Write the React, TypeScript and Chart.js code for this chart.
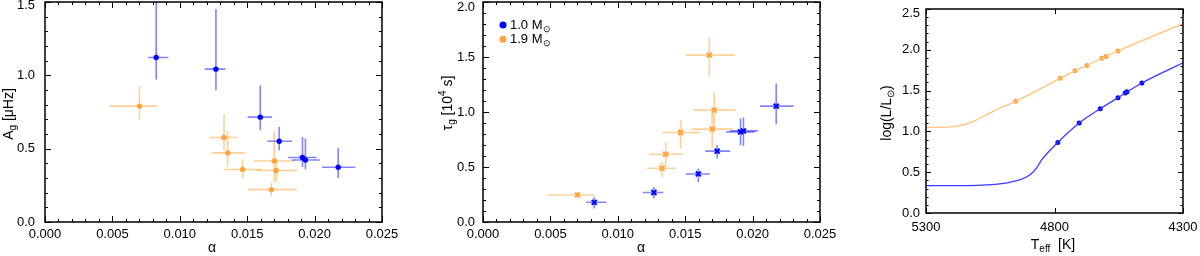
import React, { useEffect, useRef } from 'react';
import { Chart, registerables } from 'chart.js';

Chart.register(...registerables);

const FONT = '"Liberation Sans", Arial, Helvetica, sans-serif';

// ---------------- data ----------------
// alpha values (shared by panels 1 and 2)
const alphaBlue = [0.00825, 0.01268, 0.01597, 0.01737, 0.0191, 0.01932, 0.02175];
const alphaBlueLo = [0.00766, 0.01185, 0.01503, 0.01649, 0.01804, 0.01831, 0.02055];
const alphaBlueHi = [0.00915, 0.01338, 0.01683, 0.01834, 0.02015, 0.02039, 0.02303];
const alphaOrange = [0.00701, 0.01328, 0.01355, 0.01466, 0.017, 0.01715, 0.01679];
const alphaOrangeLo = [0.0048, 0.01218, 0.01234, 0.0133, 0.01545, 0.01563, 0.01505];
const alphaOrangeHi = [0.0083, 0.0143, 0.01482, 0.0161, 0.01855, 0.01872, 0.01868];

// panel 1: A_g [muHz]
const agBlue = [1.122, 1.042, 0.715, 0.551, 0.44, 0.423, 0.373];
const agBlueLo = [0.972, 0.899, 0.626, 0.489, 0.375, 0.358, 0.3];
const agBlueHi = [1.75, 1.45, 0.931, 0.648, 0.58, 0.569, 0.505];
const agOrange = [0.79, 0.576, 0.471, 0.358, 0.416, 0.351, 0.221];
const agOrangeLo = [0.699, 0.489, 0.375, 0.296, 0.273, 0.278, 0.175];
const agOrangeHi = [0.926, 0.735, 0.621, 0.426, 0.621, 0.433, 0.266];

// panel 2: tau_g [10^4 s]
const tauBlue = [0.179, 0.268, 0.437, 0.644, 0.819, 0.828, 1.053];
const tauBlueLo = [0.122, 0.213, 0.364, 0.577, 0.698, 0.69, 0.889];
const tauBlueHi = [0.228, 0.319, 0.486, 0.698, 0.941, 0.95, 1.26];
const tauOrange = [0.246, 0.489, 0.616, 0.814, 0.844, 1.017, 1.517];
const tauOrangeLo = [0.22, 0.41, 0.5, 0.668, 0.67, 0.83, 1.32];
const tauOrangeHi = [0.272, 0.546, 0.728, 0.926, 1.0, 1.183, 1.684];

// panel 3: HR diagram
const teffBlue = [4787, 4704, 4622, 4553, 4525, 4518, 4460];
const logLBlue = [0.865, 1.103, 1.278, 1.413, 1.47, 1.485, 1.593];
const teffOrange = [4951, 4778, 4720, 4674, 4616, 4599, 4553];
const logLOrange = [1.368, 1.65, 1.744, 1.809, 1.895, 1.919, 1.985];
const trackBlueT = [5300, 5200, 5100, 5030, 4986, 4934, 4895, 4870, 4850, 4787, 4704, 4622, 4553, 4460, 4300];
const trackBlueL = [0.335, 0.335, 0.338, 0.35, 0.368, 0.408, 0.469, 0.55, 0.65, 0.865, 1.103, 1.278, 1.413, 1.593, 1.84];
const trackOrangeT = [5300, 5250, 5168, 5116, 5064, 5012, 4951, 4778, 4720, 4674, 4616, 4553, 4300];
const trackOrangeL = [1.05, 1.05, 1.07, 1.123, 1.205, 1.287, 1.368, 1.65, 1.744, 1.809, 1.895, 1.985, 2.32];

// legend
const legendMasses = ['1.0', '1.9'];

// ---------------- styles ----------------
const BLUE = '#0000ff';
const ORANGE = '#ffa43c';
const BLUE_ERR = 'rgba(50,50,255,0.6)';
const ORANGE_ERR = 'rgba(255,170,70,0.55)';
const BLUE_LINE = '#3a3aff';
const ORANGE_LINE = '#ffc47a';

type Seg = { t: string; sub?: boolean; sup?: boolean };

function drawRich(ctx: CanvasRenderingContext2D, segs: Seg[], x: number, y: number, rotate: boolean, align: 'center' | 'left', size = 14) {
  ctx.save();
  ctx.translate(x, y);
  if (rotate) ctx.rotate(-Math.PI / 2);
  const small = Math.round(size * 0.68);
  let total = 0;
  const widths = segs.map((s) => {
    ctx.font = `${s.sub || s.sup ? small : size}px ${FONT}`;
    const w = ctx.measureText(s.t).width;
    total += w;
    return w;
  });
  let cx = align === 'center' ? -total / 2 : 0;
  ctx.textBaseline = 'middle';
  ctx.textAlign = 'left';
  ctx.fillStyle = '#000';
  segs.forEach((s, i) => {
    ctx.font = `${s.sub || s.sup ? small : size}px ${FONT}`;
    const dy = s.sub ? size * 0.32 : s.sup ? -size * 0.35 : 0;
    ctx.fillText(s.t, cx, dy);
    cx += widths[i];
  });
  ctx.restore();
}

type PanelCfg = {
  xMajor: number; xMinor: number; yMajor: number; yMinor: number;
  majorLen: number; minorLen: number;
  xTitle: Seg[]; xTitlePos: [number, number];
  yTitle: Seg[]; yTitlePos: [number, number];
  legend?: boolean;
};

function drawTicks(chart: any, cfg: PanelCfg) {
  const { ctx, chartArea: a } = chart;
  const xs = chart.scales.x;
  const ys = chart.scales.y;
  ctx.save();
  ctx.strokeStyle = '#000';
  ctx.lineWidth = 1;
  const ratioX = Math.round(cfg.xMajor / cfg.xMinor);
  const nX = Math.round((xs.max - xs.min) / cfg.xMinor);
  for (let i = 0; i <= nX; i++) {
    const v = xs.min + i * cfg.xMinor;
    const len = i % ratioX === 0 ? cfg.majorLen : cfg.minorLen;
    const p = Math.round(xs.getPixelForValue(v)) + 0.5;
    ctx.beginPath();
    ctx.moveTo(p, a.bottom); ctx.lineTo(p, a.bottom - len);
    ctx.moveTo(p, a.top); ctx.lineTo(p, a.top + len);
    ctx.stroke();
  }
  const ratioY = Math.round(cfg.yMajor / cfg.yMinor);
  const nY = Math.round((ys.max - ys.min) / cfg.yMinor);
  for (let i = 0; i <= nY; i++) {
    const v = ys.min + i * cfg.yMinor;
    const len = i % ratioY === 0 ? cfg.majorLen : cfg.minorLen;
    const p = Math.round(ys.getPixelForValue(v)) + 0.5;
    ctx.beginPath();
    ctx.moveTo(a.left, p); ctx.lineTo(a.left + len, p);
    ctx.moveTo(a.right, p); ctx.lineTo(a.right - len, p);
    ctx.stroke();
  }
  ctx.lineWidth = 1.5;
  ctx.strokeRect(a.left, a.top, a.right - a.left, a.bottom - a.top);
  ctx.restore();
}

function drawErrorBars(chart: any) {
  const { ctx, chartArea: a } = chart;
  const xs = chart.scales.x;
  const ys = chart.scales.y;
  ctx.save();
  ctx.beginPath();
  ctx.rect(a.left, a.top, a.right - a.left, a.bottom - a.top);
  ctx.clip();
  chart.data.datasets.forEach((ds: any) => {
    if (!ds.xLo) return;
    ctx.strokeStyle = ds.errColor;
    ctx.lineWidth = 1.6;
    ds.data.forEach((p: any, i: number) => {
      const px = xs.getPixelForValue(p.x);
      const py = ys.getPixelForValue(p.y);
      ctx.beginPath();
      ctx.moveTo(xs.getPixelForValue(ds.xLo[i]), py);
      ctx.lineTo(xs.getPixelForValue(ds.xHi[i]), py);
      ctx.moveTo(px, ys.getPixelForValue(ds.yLo[i]));
      ctx.lineTo(px, ys.getPixelForValue(ds.yHi[i]));
      ctx.stroke();
    });
  });
  ctx.restore();
}

function decorPlugin(id: string, cfg: PanelCfg) {
  return {
    id,
    beforeDatasetsDraw(chart: any) {
      drawErrorBars(chart);
    },
    afterDraw(chart: any) {
      const ctx = chart.ctx;
      drawTicks(chart, cfg);
      drawRich(ctx, cfg.xTitle, cfg.xTitlePos[0], cfg.xTitlePos[1], false, 'center');
      drawRich(ctx, cfg.yTitle, cfg.yTitlePos[0], cfg.yTitlePos[1], true, 'center');
      if (cfg.legend) {
        const colors = [BLUE, ORANGE];
        legendMasses.forEach((m, i) => {
          const y = 25 + i * 14.3;
          ctx.save();
          ctx.fillStyle = colors[i];
          ctx.beginPath();
          ctx.arc(503, y, 3.5, 0, Math.PI * 2);
          ctx.fill();
          ctx.restore();
          drawRich(ctx, [{ t: m + ' M' }, { t: '\u2299', sub: true }], 510, y, false, 'left', 13);
        });
      }
    },
  };
}

function scale(o: { min: number; max: number; step: number; pad: number; dec: number; horizontal: boolean; size: number; reverse?: boolean; topShift?: number }) {
  const isTop = (v: number) => !o.horizontal && !!o.topShift && Math.abs(v - o.max) < 1e-9;
  return {
    type: 'linear',
    min: o.min,
    max: o.max,
    reverse: !!o.reverse,
    afterFit: (s: any) => {
      if (o.horizontal) s.height = o.size; else s.width = o.size;
      s.paddingTop = 0; s.paddingBottom = 0; s.paddingLeft = 0; s.paddingRight = 0;
    },
    grid: { display: false, drawTicks: false },
    border: { display: false },
    title: { display: false },
    ticks: {
      stepSize: o.step,
      autoSkip: false,
      maxRotation: 0,
      minRotation: 0,
      padding: o.pad,
      color: '#000',
      font: (c: any) => ({
        family: FONT,
        size: 13,
        lineHeight: c.tick && isTop(c.tick.value) ? (2 * (o.topShift as number)) / 13 : 1.2,
      }),
      callback: (v: any) => {
        const s = Number(v).toFixed(o.dec);
        return isTop(Number(v)) ? ['', s] : s;
      },
    },
  };
}

function pts(xa: number[], ya: number[]) {
  return xa.map((x, i) => ({ x, y: ya[i] }));
}

function baseOptions(padding: any, scales: any) {
  return {
    responsive: false,
    animation: false,
    events: [],
    layout: { padding, autoPadding: false },
    plugins: { legend: { display: false }, tooltip: { enabled: false } },
    scales,
  };
}

function panel1(): any {
  return {
    type: 'scatter',
    data: {
      datasets: [
        { data: pts(alphaOrange, agOrange), xLo: alphaOrangeLo, xHi: alphaOrangeHi, yLo: agOrangeLo, yHi: agOrangeHi, errColor: ORANGE_ERR, pointStyle: 'circle', pointRadius: 2.7, backgroundColor: ORANGE, borderWidth: 0 },
        { data: pts(alphaBlue, agBlue), xLo: alphaBlueLo, xHi: alphaBlueHi, yLo: agBlueLo, yHi: agBlueHi, errColor: BLUE_ERR, pointStyle: 'circle', pointRadius: 2.7, backgroundColor: BLUE, borderWidth: 0 },
      ],
    },
    options: baseOptions({ left: 0, top: 2, right: 818, bottom: 4 }, {
      x: scale({ min: 0, max: 0.025, step: 0.005, pad: 5, dec: 3, horizontal: true, size: 30 }),
      y: scale({ min: 0, max: 1.5, step: 0.5, pad: 10, dec: 1, horizontal: false, size: 45, topShift: 3.5 }),
    }),
    plugins: [decorPlugin('decor1', {
      xMajor: 0.005, xMinor: 0.001, yMajor: 0.5, yMinor: 0.1, majorLen: 6, minorLen: 3,
      xTitle: [{ t: '\u03b1' }], xTitlePos: [212, 248],
      yTitle: [{ t: 'A' }, { t: 'g', sub: true }, { t: ' [\u03bcHz]' }], yTitlePos: [9, 114],
    })],
  };
}

function panel2(): any {
  return {
    type: 'scatter',
    data: {
      datasets: [
        { data: pts(alphaOrange, tauOrange), xLo: alphaOrangeLo, xHi: alphaOrangeHi, yLo: tauOrangeLo, yHi: tauOrangeHi, errColor: ORANGE_ERR, pointStyle: 'crossRot', pointRadius: 3.5, borderColor: ORANGE, borderWidth: 2 },
        { data: pts(alphaBlue, tauBlue), xLo: alphaBlueLo, xHi: alphaBlueHi, yLo: tauBlueLo, yHi: tauBlueHi, errColor: BLUE_ERR, pointStyle: 'crossRot', pointRadius: 3.5, borderColor: BLUE, borderWidth: 2 },
      ],
    },
    options: baseOptions({ left: 438, top: 2, right: 380, bottom: 4 }, {
      x: scale({ min: 0, max: 0.025, step: 0.005, pad: 5, dec: 3, horizontal: true, size: 30 }),
      y: scale({ min: 0, max: 2.0, step: 0.5, pad: 8, dec: 1, horizontal: false, size: 45, topShift: 5 }),
    }),
    plugins: [decorPlugin('decor2', {
      xMajor: 0.005, xMinor: 0.001, yMajor: 0.5, yMinor: 0.1, majorLen: 6, minorLen: 3,
      xTitle: [{ t: '\u03b1' }], xTitlePos: [641, 248],
      yTitle: [{ t: '\u03c4' }, { t: 'g', sub: true }, { t: ' [10' }, { t: '4', sup: true }, { t: ' s]' }], yTitlePos: [448, 103],
      legend: true,
    })],
  };
}

function panel3(): any {
  return {
    type: 'scatter',
    data: {
      datasets: [
        { data: pts(trackOrangeT, trackOrangeL), showLine: true, pointRadius: 0, borderColor: ORANGE_LINE, borderWidth: 1.3, cubicInterpolationMode: 'monotone' },
        { data: pts(trackBlueT, trackBlueL), showLine: true, pointRadius: 0, borderColor: BLUE_LINE, borderWidth: 1.3, cubicInterpolationMode: 'monotone' },
        { data: pts(teffOrange, logLOrange), pointStyle: 'circle', pointRadius: 2.5, backgroundColor: ORANGE, borderWidth: 0 },
        { data: pts(teffBlue, logLBlue), pointStyle: 'circle', pointRadius: 2.5, backgroundColor: BLUE, borderWidth: 0 },
      ],
    },
    options: baseOptions({ left: 886, top: 9, right: 17, bottom: 13 }, {
      x: scale({ min: 4300, max: 5300, step: 500, pad: 7, dec: 0, horizontal: true, size: 30, reverse: true }),
      y: scale({ min: 0, max: 2.5, step: 0.5, pad: 6, dec: 1, horizontal: false, size: 40, topShift: 4.5 }),
    }),
    plugins: [decorPlugin('decor3', {
      xMajor: 500, xMinor: 500, yMajor: 0.5, yMinor: 0.1, majorLen: 5, minorLen: 2.5,
      xTitle: [{ t: 'T' }, { t: 'eff', sub: true }, { t: '  [K]' }], xTitlePos: [1053, 245],
      yTitle: [{ t: 'log(L/L' }, { t: '\u2299', sub: true }, { t: ')' }], yTitlePos: [887, 113],
    })],
  };
}

export default function App() {
  const r1 = useRef<HTMLCanvasElement>(null);
  const r2 = useRef<HTMLCanvasElement>(null);
  const r3 = useRef<HTMLCanvasElement>(null);
  useEffect(() => {
    const charts = [
      new Chart(r1.current as HTMLCanvasElement, panel1()),
      new Chart(r2.current as HTMLCanvasElement, panel2()),
      new Chart(r3.current as HTMLCanvasElement, panel3()),
    ];
    return () => charts.forEach((c) => c.destroy());
  }, []);
  const cs: React.CSSProperties = { position: 'absolute', left: 0, top: 0, width: 1200, height: 256 };
  return (
    <div style={{ position: 'absolute', left: 0, top: 0, width: 1200, height: 256, background: '#fff', overflow: 'hidden' }}>
      <canvas ref={r1} width={1200} height={256} style={cs} />
      <canvas ref={r2} width={1200} height={256} style={cs} />
      <canvas ref={r3} width={1200} height={256} style={cs} />
    </div>
  );
}
